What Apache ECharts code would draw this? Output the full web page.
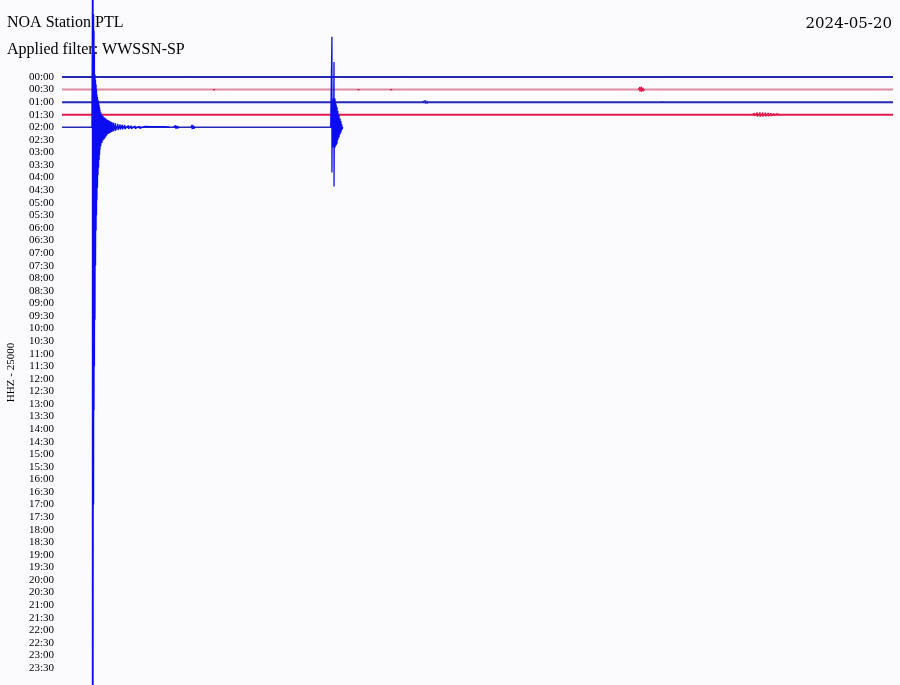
<!DOCTYPE html>
<html>
<head>
<meta charset="utf-8">
<script src="https://cdn.jsdelivr.net/npm/echarts@6/dist/echarts.min.js"></script>
<style>
html,body{margin:0;padding:0;background:#fbfbfd;}
#chart{width:900px;height:685px;}
</style>
</head>
<body>
<div id="chart"></div>
<script>
// ---- Data ----
const stationTitle = "NOA Station PTL";
const filterText = "Applied filter: WWSSN-SP";
const dateText = "2024-05-20";
const channelLabel = "HHZ - 25000";

// Row tick labels (each row = 30 minutes)
const tickLabels = ["00:00","00:30","01:00","01:30","02:00","02:30","03:00","03:30","04:00","04:30",
  "05:00","05:30","06:00","06:30","07:00","07:30","08:00","08:30","09:00","09:30",
  "10:00","10:30","11:00","11:30","12:00","12:30","13:00","13:30","14:00","14:30",
  "15:00","15:30","16:00","16:30","17:00","17:30","18:00","18:30","19:00","19:30",
  "20:00","20:30","21:00","21:30","22:00","22:30","23:00","23:30"];

// Minutes recorded in each drawn row (rows 0..4)
const rowEnds = [30, 30, 30, 30, 10.14];

// Envelopes of bursts: [minute within row, upper amplitude, lower amplitude] (row units)
const row0Bursts = [
  [[4.5,0,0],[4.52,0.1,-0.04],[4.56,0,0]],
  [[12.3,0,0],[12.32,0.1,-0.04],[12.36,0,0]],
  [[22.0,0,0],[22.02,0.1,-0.04],[22.06,0,0]]
];
const row1Bursts = [
  [[5.45,0,0],[5.49,0.12,-0.1],[5.53,0,0]],
  [[10.66,0,0],[10.7,0.1,-0.08],[10.74,0,0]],
  [[11.84,0,0],[11.88,0.12,-0.1],[11.92,0,0]],
  [[20.8,0,0],[20.86,0.2,-0.15],[20.92,0.22,-0.18],[20.98,0.14,-0.12],[21.04,0,0]]
];
const row2Bursts = [
  [[13.0,0,0],[13.06,0.14,-0.1],[13.12,0.12,-0.1],[13.18,0.1,-0.08],[13.24,0,0]],
  [[21.62,0,0],[21.66,0.12,-0.1],[21.7,0,0]]
];
const row3Bursts = [
  [[24.9,0,0],[25.0,0.12,-0.1],[25.1,0.18,-0.15],[25.2,0.2,-0.16],[25.3,0.18,-0.15],
   [25.4,0.16,-0.13],[25.5,0.15,-0.12],[25.6,0.12,-0.1],[25.7,0.1,-0.08],[25.8,0.08,-0.06],[25.95,0,0]]
];
const row4MainQuake = [
  [1.08,0,0],[1.10,10.5,-45],[1.12,10.5,-45],[1.14,9.0,-30],[1.155,7.7,-22.5],[1.17,6.0,-19],
  [1.19,4.2,-15.3],[1.21,3.8,-11],[1.23,3.4,-8.2],[1.245,3.0,-7.0],[1.26,2.6,-5.8],[1.28,2.4,-4.8],
  [1.30,2.2,-3.8],[1.32,2.0,-3.2],[1.34,1.8,-2.6],[1.355,1.6,-2.2],[1.37,1.4,-1.8],[1.40,1.2,-1.5],
  [1.44,1.0,-1.25],[1.48,0.9,-1.05],[1.52,0.8,-0.95],[1.55,0.75,-0.85],[1.59,0.68,-0.72],[1.62,0.62,-0.62],
  [1.66,0.58,-0.53],[1.70,0.52,-0.48],[1.75,0.47,-0.42],[1.80,0.42,-0.37],[1.86,0.37,-0.32],[1.93,0.32,-0.27],
  [2.02,0.26,-0.21],[2.1,0.22,-0.18],[2.18,0.2,-0.16],[2.27,0.18,-0.14],[2.4,0.14,-0.12],[2.5,0.12,-0.11],
  [2.64,0.10,-0.10],[2.8,0.08,-0.08],[3.0,0.08,-0.07],[3.18,0.06,-0.06],[3.4,0.05,-0.05],[3.72,0.05,-0.05],[3.9,0,0]
];
const row4Coda = [
  [[4.02,0,0],[4.06,0.15,-0.12],[4.1,0.14,-0.1],[4.14,0.12,-0.1],[4.18,0.1,-0.08],[4.22,0,0]],
  [[4.66,0,0],[4.70,0.2,-0.15],[4.73,0.15,-0.12],[4.76,0.12,-0.1],[4.80,0,0]]
];
const row4SecondQuake = [
  [9.70,0,0],[9.745,7.2,-3.6],[9.76,2.0,-1.6],[9.78,2.2,-1.6],[9.80,2.3,-1.6],[9.82,5.2,-4.7],
  [9.84,2.3,-1.6],[9.856,2.3,-1.6],[9.88,2.0,-1.5],[9.90,1.8,-1.4],[9.93,1.6,-1.3],[9.96,1.3,-1.0],
  [10.0,1.0,-0.8],[10.04,0.7,-0.55],[10.07,0.5,-0.4],[10.1,0.25,-0.2],[10.14,0,0]
];

// ---- Build series ----
function baseline(row, end) {
  return [[0, row], [end, row]];
}
function burstTrace(row, groups) {
  const pts = [];
  groups.forEach(g => {
    g.forEach(b => {
      pts.push([b[0], row - b[1]]);
      if (b[1] !== b[2]) pts.push([b[0], row - b[2]]);
    });
    pts.push(null);
  });
  return pts;
}

const BLUE = '#2727b8';
const PINK = '#dc8ba0';
const RED = '#e01b4c';
const BRIGHT = '#0c0cf2';

function lineSeries(data, color, width, z) {
  return {
    type: 'line', data: data, showSymbol: false, symbol: 'none', clip: false,
    connectNulls: false, animation: false, z: z,
    lineStyle: { color: color, width: width }, itemStyle: { color: color }
  };
}

const series = [
  lineSeries(baseline(0, rowEnds[0]), BLUE, 2, 2),
  lineSeries(baseline(1, rowEnds[1]), PINK, 2, 2),
  lineSeries(baseline(2, rowEnds[2]), BLUE, 2, 2),
  lineSeries(baseline(3, rowEnds[3]), RED, 2, 2),
  lineSeries(baseline(4, rowEnds[4]), BLUE, 1.5, 3),
  lineSeries(burstTrace(0, row0Bursts), BLUE, 1.2, 2),
  lineSeries(burstTrace(1, row1Bursts), RED, 1.2, 2),
  lineSeries(burstTrace(2, row2Bursts), BLUE, 1.2, 2),
  lineSeries(burstTrace(3, row3Bursts), RED, 1.2, 2),
  lineSeries(burstTrace(4, [row4MainQuake].concat(row4Coda, [row4SecondQuake])), BRIGHT, 1.3, 4)
];

const chart = echarts.init(document.getElementById('chart'), null, { renderer: 'canvas' });
chart.setOption({
  backgroundColor: '#fbfbfd',
  animation: false,
  grid: { left: 62, right: 7, top: 77, bottom: 17, containLabel: false, outerBoundsMode: 'none' },
  xAxis: { type: 'value', min: 0, max: 30, show: false },
  yAxis: {
    type: 'value', min: 0, max: 47, interval: 1, inverse: true,
    axisLine: { show: false }, axisTick: { show: false }, splitLine: { show: false },
    axisLabel: {
      margin: 8, color: '#000', fontFamily: 'Liberation Serif', fontSize: 11,
      formatter: v => tickLabels[Math.round(v)] || ''
    },
    name: channelLabel, nameLocation: 'middle', nameRotate: 90, nameGap: 45,
    nameTextStyle: { color: '#000', fontFamily: 'Liberation Serif', fontSize: 11 }
  },
  graphic: [
    { type: 'text', left: 7, top: 15, z: 1,
      style: { text: stationTitle, fill: '#000', font: '16px "Liberation Serif"' } },
    { type: 'text', left: 7, top: 42, z: 1,
      style: { text: filterText, fill: '#000', font: '16px "Liberation Serif"' } },
    { type: 'text', right: 8, top: 17, z: 1,
      style: { text: dateText, fill: '#000', font: '15px "DejaVu Serif"' } }
  ],
  series: series
});
</script>
</body>
</html>
